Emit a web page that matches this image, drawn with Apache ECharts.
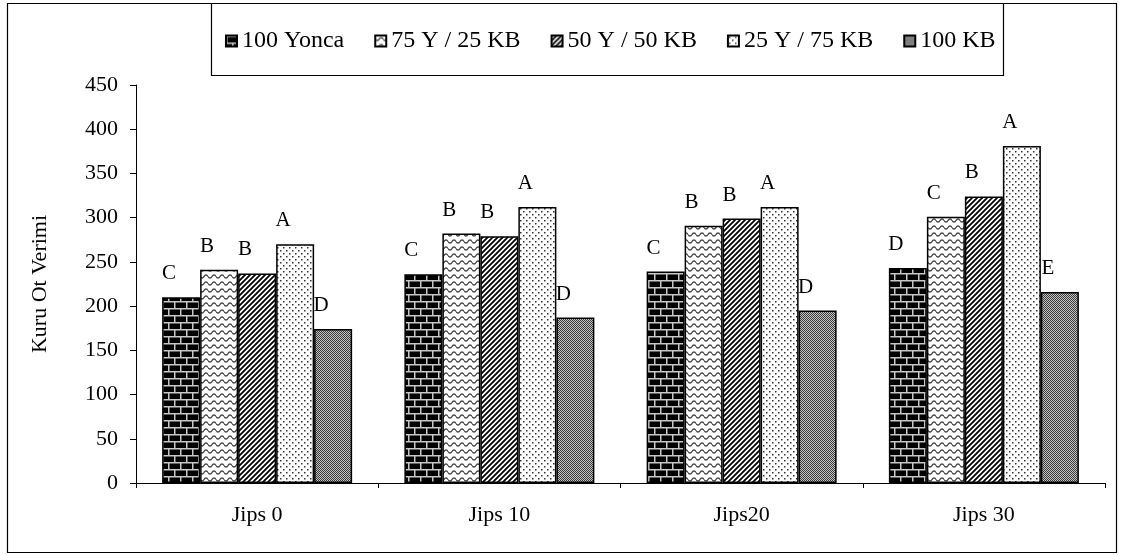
<!DOCTYPE html>
<html>
<head>
<meta charset="utf-8">
<script src="https://cdn.jsdelivr.net/npm/echarts@6/dist/echarts.min.js"></script>
<style>
html,body{margin:0;padding:0;background:#fff;}
#chart{width:1122px;height:555px;}
</style>
</head>
<body>
<div id="chart"></div>
<script>
// ---- data ----
var categories = ['Jips 0', 'Jips 10', 'Jips20', 'Jips 30'];
var seriesNames = ['100 Yonca', '75 Y / 25 KB', '50 Y / 50 KB', '25 Y / 75 KB', '100 KB'];
var yonca100 = [210, 236, 239, 243];
var y75kb25 = [241, 282, 291, 301];
var y50kb50 = [237, 279, 299, 324];
var y25kb75 = [270, 312, 312, 381];
var kb100 = [174, 187, 195, 216];
var yonca100Letters = ['C', 'C', 'C', 'D'];
var y75kb25Letters = ['B', 'B', 'B', 'C'];
var y50kb50Letters = ['B', 'B', 'B', 'B'];
var y25kb75Letters = ['A', 'A', 'A', 'A'];
var kb100Letters = ['D', 'D', 'D', 'E'];
var yTicks = {min: 0, max: 450, interval: 50};

// ---- patterns ----
function mk(w, h, draw) {
  var c = document.createElement('canvas');
  c.width = w; c.height = h;
  var g = c.getContext('2d');
  draw(g, w, h);
  return {image: c, repeat: 'repeat'};
}
var brick = mk(12, 14, function (g, w, h) {
  g.fillStyle = '#000'; g.fillRect(0, 0, w, h);
  g.fillStyle = '#c8c8c8';
  g.fillRect(0, 0, w, 1.5);
  g.fillRect(0, 7, w, 1.5);
  g.fillRect(0, 0, 1.5, 7);
  g.fillRect(6, 7, 1.5, 7);
});
var wave = mk(8, 7, function (g, w, h) {
  g.fillStyle = '#fff'; g.fillRect(0, 0, w, h);
  g.strokeStyle = '#444'; g.lineWidth = 1.3;
  g.beginPath();
  for (var x = 0; x <= w; x += 0.5) {
    var y = 3.5 + 1.6 * Math.sin(x / w * Math.PI * 2);
    if (x === 0) g.moveTo(x, y); else g.lineTo(x, y);
  }
  g.stroke();
});
var stripes = mk(5, 5, function (g, w, h) {
  g.fillStyle = '#fff'; g.fillRect(0, 0, w, h);
  g.strokeStyle = '#000'; g.lineWidth = 1.8;
  g.beginPath();
  g.moveTo(-1, w + 1); g.lineTo(w + 1, -1);
  g.moveTo(-2, 2); g.lineTo(2, -2);
  g.moveTo(w - 2, w + 2); g.lineTo(w + 2, w - 2);
  g.stroke();
});
var dots = mk(6, 6, function (g, w, h) {
  g.fillStyle = '#fff'; g.fillRect(0, 0, w, h);
  g.fillStyle = '#333';
  g.fillRect(1, 1, 1.5, 1.5);
  g.fillRect(4, 4, 1.5, 1.5);
});
var checker = mk(2, 2, function (g) {
  g.fillStyle = '#c4c4c4'; g.fillRect(0, 0, 2, 2);
  g.fillStyle = '#3a3a3a';
  g.fillRect(0, 0, 1, 1); g.fillRect(1, 1, 1, 1);
});

var patterns = [brick, wave, stripes, dots, checker];
var values = [yonca100, y75kb25, y50kb50, y25kb75, kb100];
var letters = [yonca100Letters, y75kb25Letters, y50kb50Letters, y25kb75Letters, kb100Letters];

var FONT = '"Liberation Serif", "Times New Roman", serif';

var series = seriesNames.map(function (n, i) {
  return {
    name: n,
    type: 'bar',
    data: values[i],
    barWidth: 38,
    barGap: '0%',
    itemStyle: {color: patterns[i], borderColor: '#000', borderWidth: 1.5},
    label: {
      show: true,
      position: 'top',
      distance: 5,
      offset: [-12, -8],
      fontFamily: FONT,
      fontSize: 21,
      color: '#000',
      formatter: function (p) { return letters[p.seriesIndex][p.dataIndex]; }
    },
    emphasis: {disabled: true}
  };
});

var chart = echarts.init(document.getElementById('chart'), null, {renderer: 'canvas'});
chart.setOption({
  animation: false,
  backgroundColor: '#fff',
  textStyle: {fontFamily: FONT},
  grid: {left: 136, right: 17, top: 85, bottom: 72, containLabel: false},
  legend: {
    data: seriesNames,
    left: 220, top: 24,
    itemWidth: 11, itemHeight: 11,
    itemGap: 30,
    icon: 'rect',
    textStyle: {fontFamily: FONT, fontSize: 24, color: '#000'}
  },
  graphic: [
    {type: 'rect', shape: {x: 7.5, y: 3.5, width: 1109, height: 549}, style: {fill: 'none', stroke: '#000', lineWidth: 1.2}, silent: true, z: -1},
    {type: 'rect', shape: {x: 211.5, y: 3.5, width: 792, height: 72}, style: {fill: 'none', stroke: '#000', lineWidth: 1.2}, silent: true, z: -1}
  ],
  xAxis: {
    type: 'category',
    data: categories,
    axisLine: {lineStyle: {color: '#000', width: 1}},
    axisTick: {show: true, length: 5, lineStyle: {color: '#000'}},
    axisLabel: {fontFamily: FONT, fontSize: 22, color: '#000', margin: 21}
  },
  yAxis: {
    type: 'value',
    min: yTicks.min, max: yTicks.max, interval: yTicks.interval,
    name: 'Kuru Ot Verimi',
    nameLocation: 'middle',
    nameGap: 85,
    nameTextStyle: {fontFamily: FONT, fontSize: 22, color: '#000'},
    axisLine: {show: true, lineStyle: {color: '#000', width: 1}},
    axisTick: {show: true, length: 6, lineStyle: {color: '#000'}},
    axisLabel: {fontFamily: FONT, fontSize: 22, color: '#000', margin: 18},
    splitLine: {show: false}
  },
  series: series
});
</script>
</body>
</html>
